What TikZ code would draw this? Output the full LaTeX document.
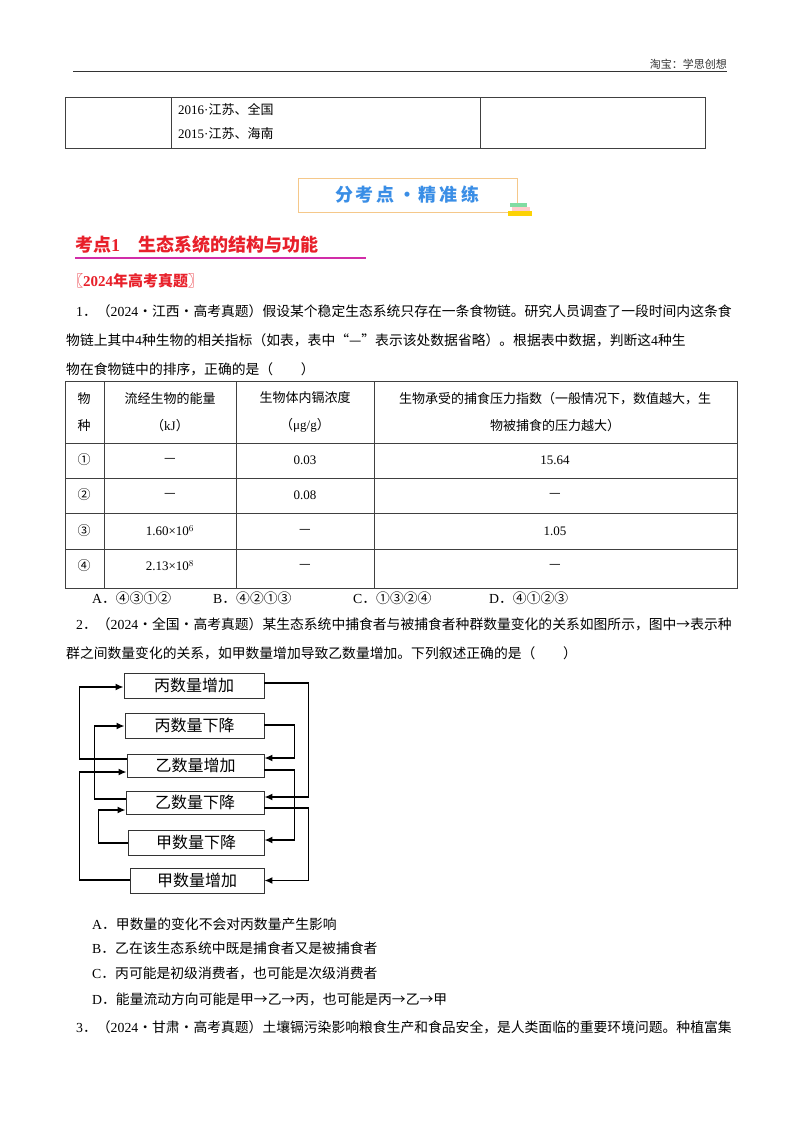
\documentclass[tikz,border=0pt]{standalone}
\usepackage{fontspec}
\setmainfont{Noto Sans CJK SC}
\newfontfamily\lat{Liberation Serif}
\usetikzlibrary{arrows.meta}
\definecolor{bannerblue}{HTML}{3A8EE6}
\definecolor{bannerline}{HTML}{F5C88A}
\definecolor{kred}{HTML}{E8202A}
\definecolor{kline}{HTML}{D12DA8}
\tikzset{
  txt/.style={anchor=west,inner sep=0pt,font=\fontsize{13.8}{16}\selectfont},
  cell/.style={inner sep=0pt,font=\fontsize{13}{27}\selectfont,align=center},
  fbox/.style={draw=black!80,line width=0.8pt,inner sep=0pt,font=\fontsize{16}{18}\selectfont},
  conn/.style={line width=1.6pt,-{Latex[length=8pt,width=7pt]}},
  grid/.style={line width=0.9pt,black!75}
}
\begin{document}
\begin{tikzpicture}[x=1pt,y=-1pt]
\useasboundingbox (0,0) rectangle (800,1132);
\fill[white] (0,0) rectangle (800,1132);
% header
\node[anchor=east,inner sep=0pt,font=\fontsize{11}{12}\selectfont,black!80] (hdr) at (727,64) {淘宝：学思创想};
\draw[line width=1pt,black!80] (73,72) -- (727,72);
% top table
\draw[grid] (65,97) rectangle (705,148);
\draw[grid] (171,97) -- (171,148) (480,97) -- (480,148);
\node[txt,font=\fontsize{13}{15}\selectfont] (t1) at (178,109) {{\lat 2016·}江苏、全国};
\node[txt,font=\fontsize{13}{15}\selectfont] (t2) at (178,134) {{\lat 2015·}江苏、海南};
% banner
\draw[bannerline,line width=0.9pt,fill=white] (298,178) rectangle (517,212);
\node[font=\fontsize{18}{20}\selectfont\bfseries,text=bannerblue] (ban) at (407,195) {分\,考\,点\,·\,精\,准\,练};
\fill[green!45!teal!50] (510,203) rectangle (527,207);
\fill[pink!80] (512,207) rectangle (530,211);
\fill[yellow!70!orange] (508,211) rectangle (532,216);
% section
\node[txt,font=\fontsize{18}{20}\selectfont\bfseries,text=kred] (sec) at (75,245) {考点{\lat 1}　生态系统的结构与功能};
\draw[kline,line width=2pt] (75,258) -- (366,258);
\node[txt,font=\fontsize{15}{17}\selectfont\bfseries,text=kred] (yr) at (68,281) {〖{\lat 2024}年高考真题〗};
% Q1
\node[txt] (q1a) at (76,311) {{\lat 1}．（{\lat 2024}·江西·高考真题）假设某个稳定生态系统只存在一条食物链。研究人员调查了一段时间内这条食};
\node[txt] (q1b) at (66,340) {物链上其中{\lat 4}种生物的相关指标（如表，表中“—”表示该处数据省略）。根据表中数据，判断这{\lat 4}种生};
\node[txt] (q1c) at (66,369) {物在食物链中的排序，正确的是（　　）};
% table
\draw[grid] (65,381) rectangle (737,588);
\foreach \yy in {443,478,513,549} \draw[grid] (65,\yy) -- (737,\yy);
\foreach \xx in {104,236,374} \draw[grid] (\xx,381) -- (\xx,588);
\node[cell] (h1) at (84,412) {物\\种};
\node[cell] (h2) at (170,412) {流经生物的能量\\（{\lat kJ}）};
\node[cell] (h3) at (305,412) {生物体内镉浓度\\（{\lat μg/g}）};
\node[cell] (h4) at (555,412) {生物承受的捕食压力指数（一般情况下，数值越大，生\\物被捕食的压力越大）};
\node[cell] (r1a) at (84,460) {①}; \node[cell] (r1b) at (170,460) {—}; \node[cell] (r1c) at (305,460) {\lat 0.03}; \node[cell] (r1d) at (555,460) {\lat 15.64};
\node[cell] (r2a) at (84,495) {②}; \node[cell] (r2b) at (170,495) {—}; \node[cell] (r2c) at (305,495) {\lat 0.08}; \node[cell] (r2d) at (555,495) {—};
\node[cell] (r3a) at (84,531) {③}; \node[cell] (r3b) at (170,531) {\lat 1.60×10$^{6}$}; \node[cell] (r3c) at (305,531) {—}; \node[cell] (r3d) at (555,531) {\lat 1.05};
\node[cell] (r4a) at (84,566) {④}; \node[cell] (r4b) at (170,566) {\lat 2.13×10$^{8}$}; \node[cell] (r4c) at (305,566) {—}; \node[cell] (r4d) at (555,566) {—};
\node[txt] (oA) at (92,598) {{\lat A}．④③①②};
\node[txt] (oB) at (213,598) {{\lat B}．④②①③};
\node[txt] (oC) at (353,598) {{\lat C}．①③②④};
\node[txt] (oD) at (489,598) {{\lat D}．④①②③};
% Q2
\node[txt] (q2a) at (76,624) {{\lat 2}．（{\lat 2024}·全国·高考真题）某生态系统中捕食者与被捕食者种群数量变化的关系如图所示，图中→表示种};
\node[txt] (q2b) at (66,653) {群之间数量变化的关系，如甲数量增加导致乙数量增加。下列叙述正确的是（　　）};
% diagram
\node[fbox,minimum width=140pt,minimum height=25pt] (b1) at (194,685.5) {丙数量增加};
\node[fbox,minimum width=139pt,minimum height=25pt] (b2) at (194.5,725.5) {丙数量下降};
\node[fbox,minimum width=137pt,minimum height=23pt] (b3) at (195.5,765.5) {乙数量增加};
\node[fbox,minimum width=138pt,minimum height=23pt] (b4) at (195,802.5) {乙数量下降};
\node[fbox,minimum width=136pt,minimum height=25pt] (b5) at (196,842.5) {甲数量下降};
\node[fbox,minimum width=134pt,minimum height=25pt] (b6) at (197,880.5) {甲数量增加};
\draw[conn] ([yshift=6.5pt]b3.west) -- ++(-47,0) |- ([yshift=-1.5pt]b1.west);
\draw[conn] ([yshift=3.5pt]b4.west) -- ++(-31,0) |- ([yshift=-0.5pt]b2.west);
\draw[conn] ([yshift=-0.5pt]b5.west) -- ++(-29,0) |- ([yshift=-7.5pt]b4.west);
\draw[conn] ([yshift=0.5pt]b6.west) -- ++(-50,0) |- ([yshift=-6.5pt]b3.west);
\draw[conn] ([yshift=2.5pt]b1.east) -- ++(44,0) |- ([yshift=5.5pt]b4.east);
\draw[conn] ([yshift=0.5pt]b2.east) -- ++(30,0) |- ([yshift=7.5pt]b3.east);
\draw[conn] ([yshift=-4.5pt]b3.east) -- ++(30,0) |- ([yshift=2.5pt]b5.east);
\draw[conn] ([yshift=-5.5pt]b4.east) -- ++(44,0) |- (b6.east);
% options Q2
\node[txt] (pA) at (92,924) {{\lat A}．甲数量的变化不会对丙数量产生影响};
\node[txt] (pB) at (92,948) {{\lat B}．乙在该生态系统中既是捕食者又是被捕食者};
\node[txt] (pC) at (92,973) {{\lat C}．丙可能是初级消费者，也可能是次级消费者};
\node[txt] (pD) at (92,999) {{\lat D}．能量流动方向可能是甲→乙→丙，也可能是丙→乙→甲};
% Q3
\node[txt] (q3) at (76,1027) {{\lat 3}．（{\lat 2024}·甘肃·高考真题）土壤镉污染影响粮食生产和食品安全，是人类面临的重要环境问题。种植富集};
\end{tikzpicture}
\end{document}
